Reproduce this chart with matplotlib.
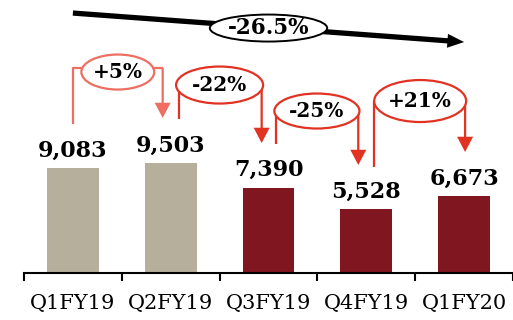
import matplotlib
matplotlib.use("Agg")
import matplotlib.pyplot as plt
from matplotlib.patches import Ellipse, FancyArrowPatch

# ---- data ----
categories = ["Q1FY19", "Q2FY19", "Q3FY19", "Q4FY19", "Q1FY20"]
values = [9083, 9503, 7390, 5528, 6673]
bar_colors = ["#B6AF9B", "#B6AF9B", "#801620", "#801620", "#801620"]
change_labels = ["+5%", "-22%", "-25%", "+21%"]
overall_label = "-26.5%"

# ---- layout (data coords) ----
conn_xl = [0.0, 1.08, 2.08, 3.08]
conn_xr = [0.918, 1.93, 2.918, 4.01]
conn_ybot = [12878, 13310, 11150, 9162]
conn_ytop = [17718, 16249, 14002, 14866]
conn_ytip = [13397, 11236, 9334, 10458]
ell_x = [0.459, 1.5, 2.495, 3.551]
ell_y = [17373, 16249, 14002, 14866]
ell_w = [0.745, 0.89, 0.87, 0.94]
ell_h = [3025, 3198, 3025, 3630]
conn_colors = ["#EE6E62", "#E23222", "#E23222", "#E23222"]

SERIF = ["DejaVu Serif"]

fig = plt.figure(figsize=(5.13, 3.2), dpi=100)
ax = fig.add_axes([24 / 513, 47 / 320, 1 - 24 / 513, 273 / 320])
ax.set_xlim(-0.5, 4.5)
ax.set_ylim(0, 23600)

x = list(range(len(categories)))
ax.bar(x, values, width=0.53, color=bar_colors, zorder=2)

for xi, v in zip(x, values):
    ax.annotate(f"{v:,}", (xi, v), xytext=(0, 12.5), textcoords="offset points",
                ha="center", va="center", fontsize=16, fontweight="bold",
                family=SERIF, color="black", zorder=6)

# connectors
for i in range(4):
    c = conn_colors[i]
    if i == 0:
        ax.plot([conn_xl[i], conn_xl[i], conn_xr[i]],
                [conn_ybot[i], conn_ytop[i], conn_ytop[i]],
                color=c, lw=1.6, zorder=3, solid_capstyle="butt")
    else:
        ax.plot([conn_xl[i], conn_xl[i]], [conn_ybot[i], conn_ytop[i]],
                color=c, lw=1.6, zorder=3, solid_capstyle="butt")
    arr = FancyArrowPatch((conn_xr[i], conn_ytop[i]), (conn_xr[i], conn_ytip[i]),
                          arrowstyle="simple,head_length=1.1,head_width=1.15,tail_width=0.16",
                          mutation_scale=10, color=c, lw=0, zorder=3,
                          shrinkA=0, shrinkB=0)
    ax.add_patch(arr)
    e = Ellipse((ell_x[i], ell_y[i]), ell_w[i], ell_h[i], facecolor="white",
                edgecolor=c, lw=1.6, zorder=4)
    ax.add_patch(e)
    ax.text(ell_x[i], ell_y[i], change_labels[i], ha="center", va="center",
            fontsize=14.5, fontweight="bold", family=SERIF, zorder=5)

# overall arrow
big = FancyArrowPatch((0.0, 22472), (4.0, 19965),
                      arrowstyle="simple,head_length=1.2,head_width=1.0,tail_width=0.38",
                      mutation_scale=10, color="black", lw=0, zorder=3,
                      shrinkA=0, shrinkB=0)
ax.add_patch(big)
ax.add_patch(Ellipse((2.0, 21175), 1.2, 2334, facecolor="white",
                     edgecolor="black", lw=1.4, zorder=4))
ax.text(2.0, 21175, overall_label, ha="center", va="center", fontsize=15.5,
        fontweight="bold", family=SERIF, zorder=5)

# axes styling
for s in ["top", "right", "left"]:
    ax.spines[s].set_visible(False)
ax.spines["bottom"].set_linewidth(1.5)
ax.set_yticks([])
ax.set_xticks([-0.5, 0.5, 1.5, 2.5, 3.5, 4.5])
ax.set_xticklabels([])
ax.tick_params(axis="x", which="major", length=6, width=1.5, direction="out")
ax.set_xticks(x, minor=True)
ax.set_xticklabels(categories, minor=True, fontsize=15, family=SERIF)
ax.tick_params(axis="x", which="minor", length=0, pad=15)

fig.savefig("out.png", dpi=100)
